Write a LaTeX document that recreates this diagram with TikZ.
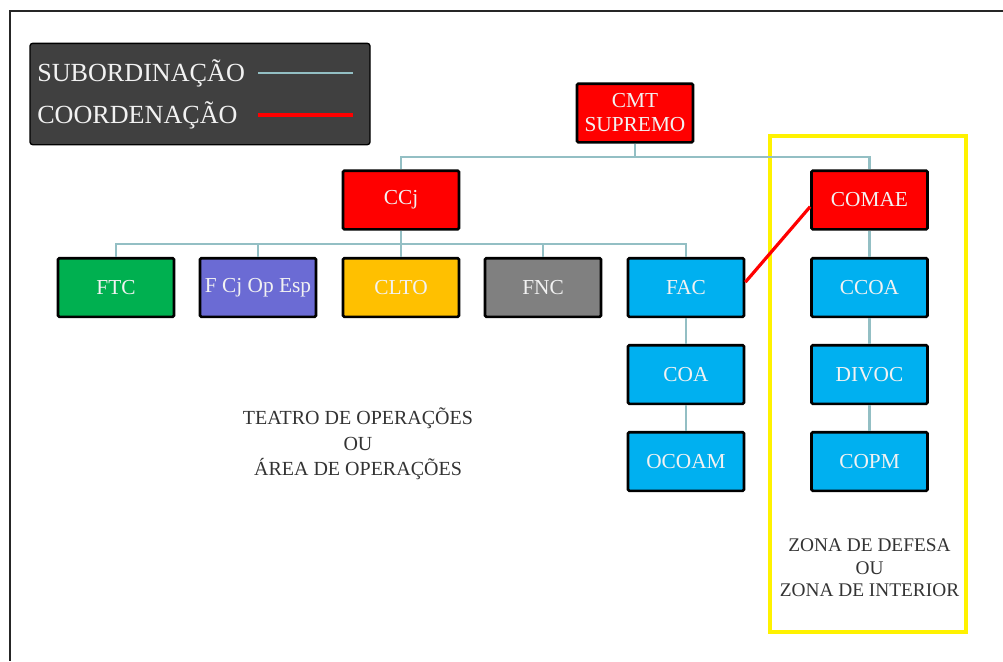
\documentclass[tikz,border=0pt]{standalone}
\usepackage{fontspec}
\setmainfont{Liberation Serif}
\definecolor{subc}{HTML}{93BFC4}
\definecolor{legbg}{HTML}{404040}
\definecolor{cred}{HTML}{FF0000}
\definecolor{cgreen}{HTML}{00B050}
\definecolor{cpurple}{HTML}{6B6BD4}
\definecolor{corange}{HTML}{FFC000}
\definecolor{cgray}{HTML}{808080}
\definecolor{ccyan}{HTML}{00B0F0}
\definecolor{txtlight}{HTML}{F2F2F2}
\definecolor{txtdark}{HTML}{333333}
\begin{document}
\begin{tikzpicture}[x=0.75pt,y=-0.75pt,
  org/.style={draw=black,line width=2pt,rounded corners=1pt,minimum width=87pt,minimum height=44pt,
    inner sep=1pt,align=center,text=txtlight,font=\fontsize{16}{18}\selectfont},
  sub/.style={draw=subc,line width=2.2pt},
  coord/.style={draw=cred,line width=2.4pt},
  lbl/.style={align=center,text=txtdark,font=\fontsize{15}{19}\selectfont},
  legtxt/.style={anchor=west,text=txtlight,inner sep=0pt,font=\fontsize{19.6}{19.6}\selectfont}]
\useasboundingbox (0,0) rectangle (1003,661);
% outer frame (top and left edges visible)
\draw[line width=2.2pt,black!85] (1003,11) -- (10,11) -- (10,661);
% legend
\node[draw=black,line width=1pt,fill=legbg,rounded corners=2pt,minimum width=255pt,minimum height=76pt,inner sep=0pt] (legend) at (200,94) {};
\node[legtxt] (lsub) at (37,73) {SUBORDINAÇÃO};
\node[legtxt] (lcoo) at (37,115) {COORDENAÇÃO};
\coordinate (ls1) at (258,73); \coordinate (ls2) at (353,73);
\coordinate (lc1) at (258,115); \coordinate (lc2) at (353,115);
\draw[sub] (ls1) -- (ls2);
\draw[coord,line width=3pt] (lc1) -- (lc2);
% yellow zone
\draw[yellow,line width=2.4pt] (770,136) rectangle (966,632);
% nodes
\node[org,fill=cred] (cmt) at (635,113) {CMT\\SUPREMO};
\node[org,fill=cred] (ccj) at (401,200) {CCj};
\node[org,fill=cred] (comae) at (869.5,200) {COMAE};
\node[org,fill=cgreen] (ftc) at (116,287.5) {FTC};
\node[org,fill=cpurple] (fcj) at (258,287.5) {F Cj Op Esp};
\node[org,fill=corange] (clto) at (401,287.5) {CLTO};
\node[org,fill=cgray] (fnc) at (543,287.5) {FNC};
\node[org,fill=ccyan] (fac) at (686,287.5) {FAC};
\node[org,fill=ccyan] (ccoa) at (869.5,287.5) {CCOA};
\node[org,fill=ccyan] (coa) at (686,374.5) {COA};
\node[org,fill=ccyan] (divoc) at (869.5,374.5) {DIVOC};
\node[org,fill=ccyan] (ocoam) at (686,461.5) {OCOAM};
\node[org,fill=ccyan] (copm) at (869.5,461.5) {COPM};
% connectors
\coordinate (b1) at (635,157);
\coordinate (b2) at (401,244);
\draw[sub] (cmt.south) -- (b1);
\draw[sub] (ccj.north) |- (b1) -| (comae.north);
\draw[sub] (ccj.south) -- (b2);
\foreach \n in {ftc,fcj,fnc,fac} { \draw[sub] (\n.north) |- (b2); }
\draw[sub] (clto.north) -- (b2);
\draw[sub] (fac.south) -- (coa.north);
\draw[sub] (coa.south) -- (ocoam.north);
\draw[sub] (comae.south) -- (ccoa.north);
\draw[sub] (ccoa.south) -- (divoc.north);
\draw[sub] (divoc.south) -- (copm.north);
\draw[coord] ([yshift=4pt]fac.east) -- ([yshift=-5pt]comae.west);
% labels
\node[lbl] (teatro) at (358,444) {TEATRO DE OPERAÇÕES\\OU\\ÁREA DE OPERAÇÕES};
\node[lbl,font=\fontsize{14.5}{17}\selectfont] (zona) at (869.5,568) {ZONA DE DEFESA\\OU\\ZONA DE INTERIOR};
\end{tikzpicture}
\end{document}
